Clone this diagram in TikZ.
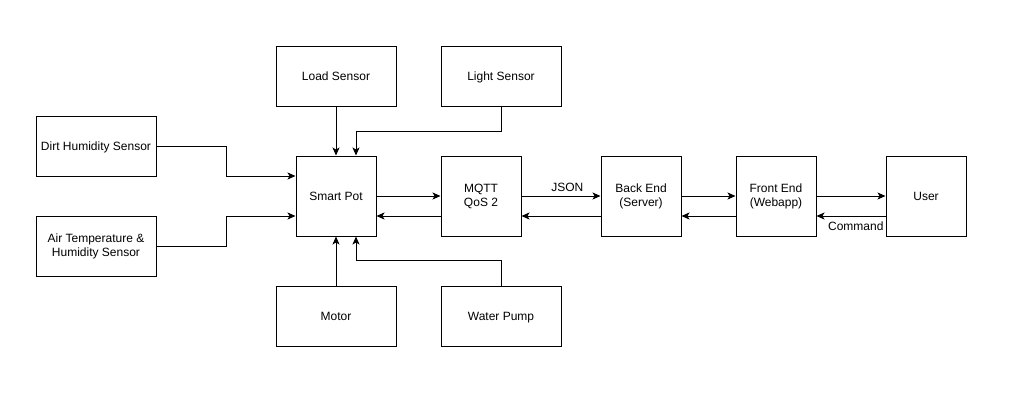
\documentclass[tikz,border=0pt]{standalone}
\usepackage{fontspec}
\setmainfont{Liberation Sans}
\usetikzlibrary{arrows.meta}
\begin{document}
\begin{tikzpicture}[x=1pt,y=-1pt,
  every node/.style={font=\fontsize{12pt}{14pt}\selectfont},
  blk/.style={draw, line width=1pt, fill=white, align=center, inner sep=0pt},
  one/.style={text height=11.5pt, text depth=2pt},
  wide/.style={blk, minimum width=120pt, minimum height=60pt},
  sq/.style={blk, minimum width=80pt, minimum height=80pt},
  arr/.style={line width=1pt, -{Stealth[length=8pt,width=7pt,inset=2pt]}}]
\fill[white] (0,0) rectangle (1020,405);
\useasboundingbox (0,0) rectangle (1020,405);
\node[wide, one] (load) at (336,76) {Load Sensor};
\node[wide, one] (light) at (501,76) {Light Sensor};
\node[wide, one] (dirt) at (96,146) {Dirt Humidity Sensor};
\node[wide] (air) at (96,246) {Air Temperature \&\\Humidity Sensor};
\node[sq, one] (pot) at (336,196) {Smart Pot};
\node[sq] (mqtt) at (481,196) {MQTT\\QoS 2};
\node[sq] (back) at (641,196) {Back End\\(Server)};
\node[sq] (front) at (776,196) {Front End\\(Webapp)};
\node[sq, one] (user) at (926,196) {User};
\node[wide, one] (motor) at (336,316) {Motor};
\node[wide, one] (pump) at (501,316) {Water Pump};
\draw[arr] (load.south) -- (pot.north);
\draw[arr] (light.south) -- ++(0,25) -| ([xshift=20pt]pot.north);
\draw[arr] (dirt.east) -- ++(70,0) |- ([yshift=20pt]pot.west);
\draw[arr] (air.east) -- ++(70,0) |- ([yshift=-20pt]pot.west);
\draw[arr] (motor.north) -- (pot.south);
\draw[arr] (pump.north) -- ++(0,-25) -| ([xshift=20pt]pot.south);
\draw[arr] (pot.east) -- (mqtt.west);
\draw[arr] ([yshift=-20pt]mqtt.west) -- ([yshift=-20pt]pot.east);
\draw[arr] (mqtt.east) -- node[pos=0.58, above=1pt] {JSON} (back.west);
\draw[arr] ([yshift=-20pt]back.west) -- ([yshift=-20pt]mqtt.east);
\draw[arr] (back.east) -- (front.west);
\draw[arr] ([yshift=-20pt]front.west) -- ([yshift=-20pt]back.east);
\draw[arr] (front.east) -- (user.west);
\draw[arr] ([yshift=-20pt]user.west) -- node[pos=0.43, below=1.5pt] {Command} ([yshift=-20pt]front.east);
\end{tikzpicture}
\end{document}
